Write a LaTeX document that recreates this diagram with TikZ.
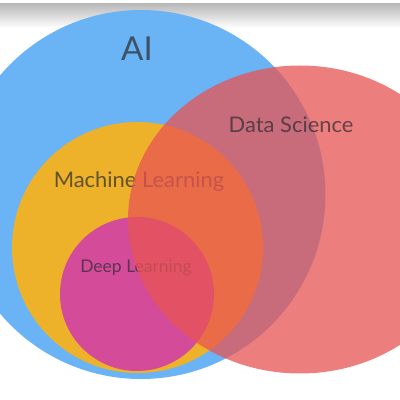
\documentclass[tikz,border=0pt]{standalone}
\usepackage{fontspec}
\setmainfont{Lato}
\definecolor{aiblue}{RGB}{106,180,245}
\definecolor{mlorange}{RGB}{237,178,42}
\definecolor{dlmagenta}{RGB}{212,75,154}
\definecolor{dsred}{RGB}{232,84,83}
\definecolor{labelgray}{RGB}{45,45,50}
\tikzset{
  lbl/.style={text=labelgray, text opacity=0.72, inner sep=0pt, anchor=base},
}
\begin{document}
\begin{tikzpicture}[x=1pt,y=1pt]
\useasboundingbox (0,0) rectangle (400,400);
\fill[white] (0,0) rectangle (400,400);
\shade[top color=black!28, bottom color=white] (0,372) rectangle (400,396.5);
\begin{scope}
\clip (0,0) rectangle (400,400);
\fill[aiblue] (141,205.5) circle[radius=184.5pt];
\fill[mlorange] (137.5,152.5) circle[radius=125.5pt];
\fill[dlmagenta] (137,106) circle[radius=77pt];
\node[lbl, font=\fontsize{33}{33}\selectfont] (ai) at (137,339) {AI};
\node[lbl, font=\fontsize{21.5}{21.5}\selectfont\addfontfeature{FakeStretch=1.02}] (ml) at (139,212) {Machine Learning};
\node[lbl, font=\fontsize{17.5}{17.5}\selectfont] (dl) at (136,128) {Deep Learning};
\fill[dsred, fill opacity=0.75] (300,180.5) ellipse[x radius=172pt, y radius=154pt];
\node[lbl, font=\fontsize{21.5}{21.5}\selectfont\addfontfeature{FakeStretch=1.02}] (ds) at (291,267) {Data Science};
\end{scope}
\end{tikzpicture}
\end{document}
